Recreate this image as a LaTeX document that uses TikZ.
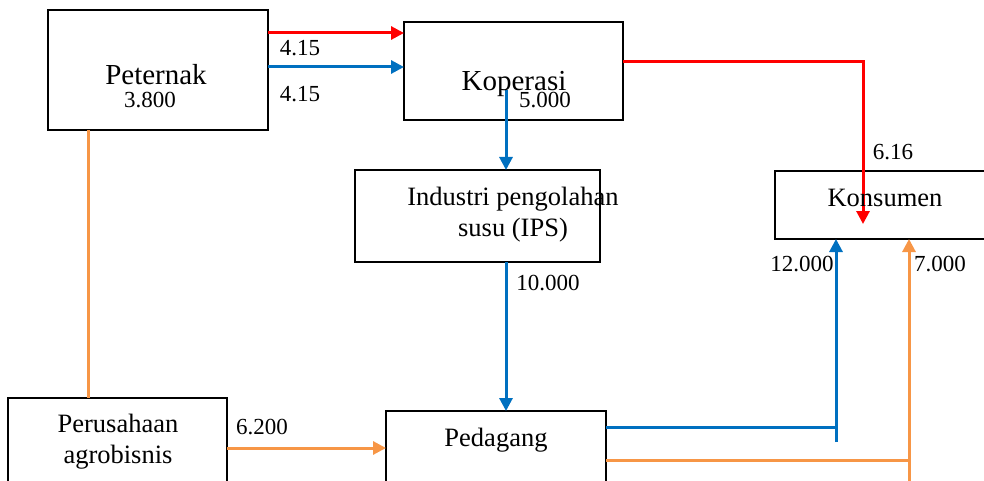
\documentclass[tikz,border=0pt]{standalone}
\usepackage{fontspec}
\setmainfont{Liberation Serif}
\usetikzlibrary{arrows.meta}
\definecolor{cred}{HTML}{FF0000}
\definecolor{cblue}{HTML}{0070C0}
\definecolor{corange}{HTML}{F79646}
\tikzset{
  box/.style={draw=black, line width=2pt, fill=white},
  nodetext/.style={inner sep=0pt, font=\fontsize{26.5}{31}\selectfont, align=center},
  bigtext/.style={inner sep=0pt, font=\fontsize{29}{33}\selectfont},
  numtext/.style={inner sep=0pt, font=\fontsize{23}{27}\selectfont},
  flow/.style={line width=3pt, -{Triangle[length=13pt,width=13pt]}},
  plainline/.style={line width=3pt},
}
\begin{document}
\begin{tikzpicture}[x=1pt,y=-1pt]
\useasboundingbox (0,0) rectangle (984,481);
% boxes
\draw[box] (48,10) rectangle (268,130);
\draw[box] (404,22) rectangle (623,120);
\draw[box] (355,170) rectangle (600,262);
\draw[box] (775,171) rectangle (990,239);
\draw[box] (8,398) rectangle (227,495);
\draw[box] (386,411) rectangle (606,495);
% named anchor coordinates
\coordinate (petR1) at (268,33);
\coordinate (petR2) at (268,67);
\coordinate (kopL1) at (404,33);
\coordinate (kopL2) at (404,67);
\coordinate (kopR) at (623,62);
\coordinate (kopIn) at (506,90);
\coordinate (turnR) at (863,62);
\coordinate (konIn) at (863,224);
\coordinate (ipsT) at (506,170);
\coordinate (ipsB) at (506,262);
\coordinate (pedT) at (506,411);
\coordinate (petB) at (88,130);
\coordinate (perT) at (88,398);
\coordinate (perR) at (227,448);
\coordinate (pedL) at (386,448);
\coordinate (pedR1) at (606,427);
\coordinate (blueJ) at (836,427);
\coordinate (blueEnd) at (836,442);
\coordinate (konB1) at (836,239);
\coordinate (pedR2) at (606,460);
\coordinate (orJ) at (909,460);
\coordinate (orEnd) at (909,485);
\coordinate (konB2) at (909,239);
% connectors
\draw[flow, cred] (petR1) -- (kopL1);
\draw[flow, cblue] (petR2) -- (kopL2);
\draw[flow, cred] (kopR) -- (turnR) -- (konIn);
\draw[flow, cblue] (kopIn) -- (ipsT);
\draw[flow, cblue] (ipsB) -- (pedT);
\draw[plainline, corange] (petB) -- (perT);
\draw[flow, corange] (perR) -- (pedL);
\draw[plainline, cblue] (pedR1) -- (blueJ);
\draw[flow, cblue] (blueEnd) -- (konB1);
\draw[plainline, corange] (pedR2) -- (orJ);
\draw[flow, corange] (orEnd) -- (konB2);
% texts
\node[bigtext] (tpet) at (156,75) {Peternak};
\node[numtext] (tpetn) at (150,100) {3.800};
\node[bigtext] (tkop) at (514,84) {Koperasi};
\node[numtext] (tkopn) at (545,100) {5.000};
\node[numtext] (l1) at (300,48) {4.15};
\node[numtext] (l2) at (300,94) {4.15};
\node[nodetext] (tips) at (513,215) {Industri pengolahan\\susu (IPS)};
\node[numtext] (l3) at (548,283) {10.000};
\node[numtext] (l4) at (893,152) {6.16};
\node[nodetext] (tkon) at (885,198) {Konsumen};
\node[numtext] (l5) at (802,264) {12.000};
\node[numtext] (l6) at (940,264) {7.000};
\node[nodetext] (tper) at (118,442) {Perusahaan\\agrobisnis};
\node[numtext] (l7) at (262,427) {6.200};
\node[nodetext] (tped) at (496,440) {Pedagang};
\end{tikzpicture}
\end{document}
